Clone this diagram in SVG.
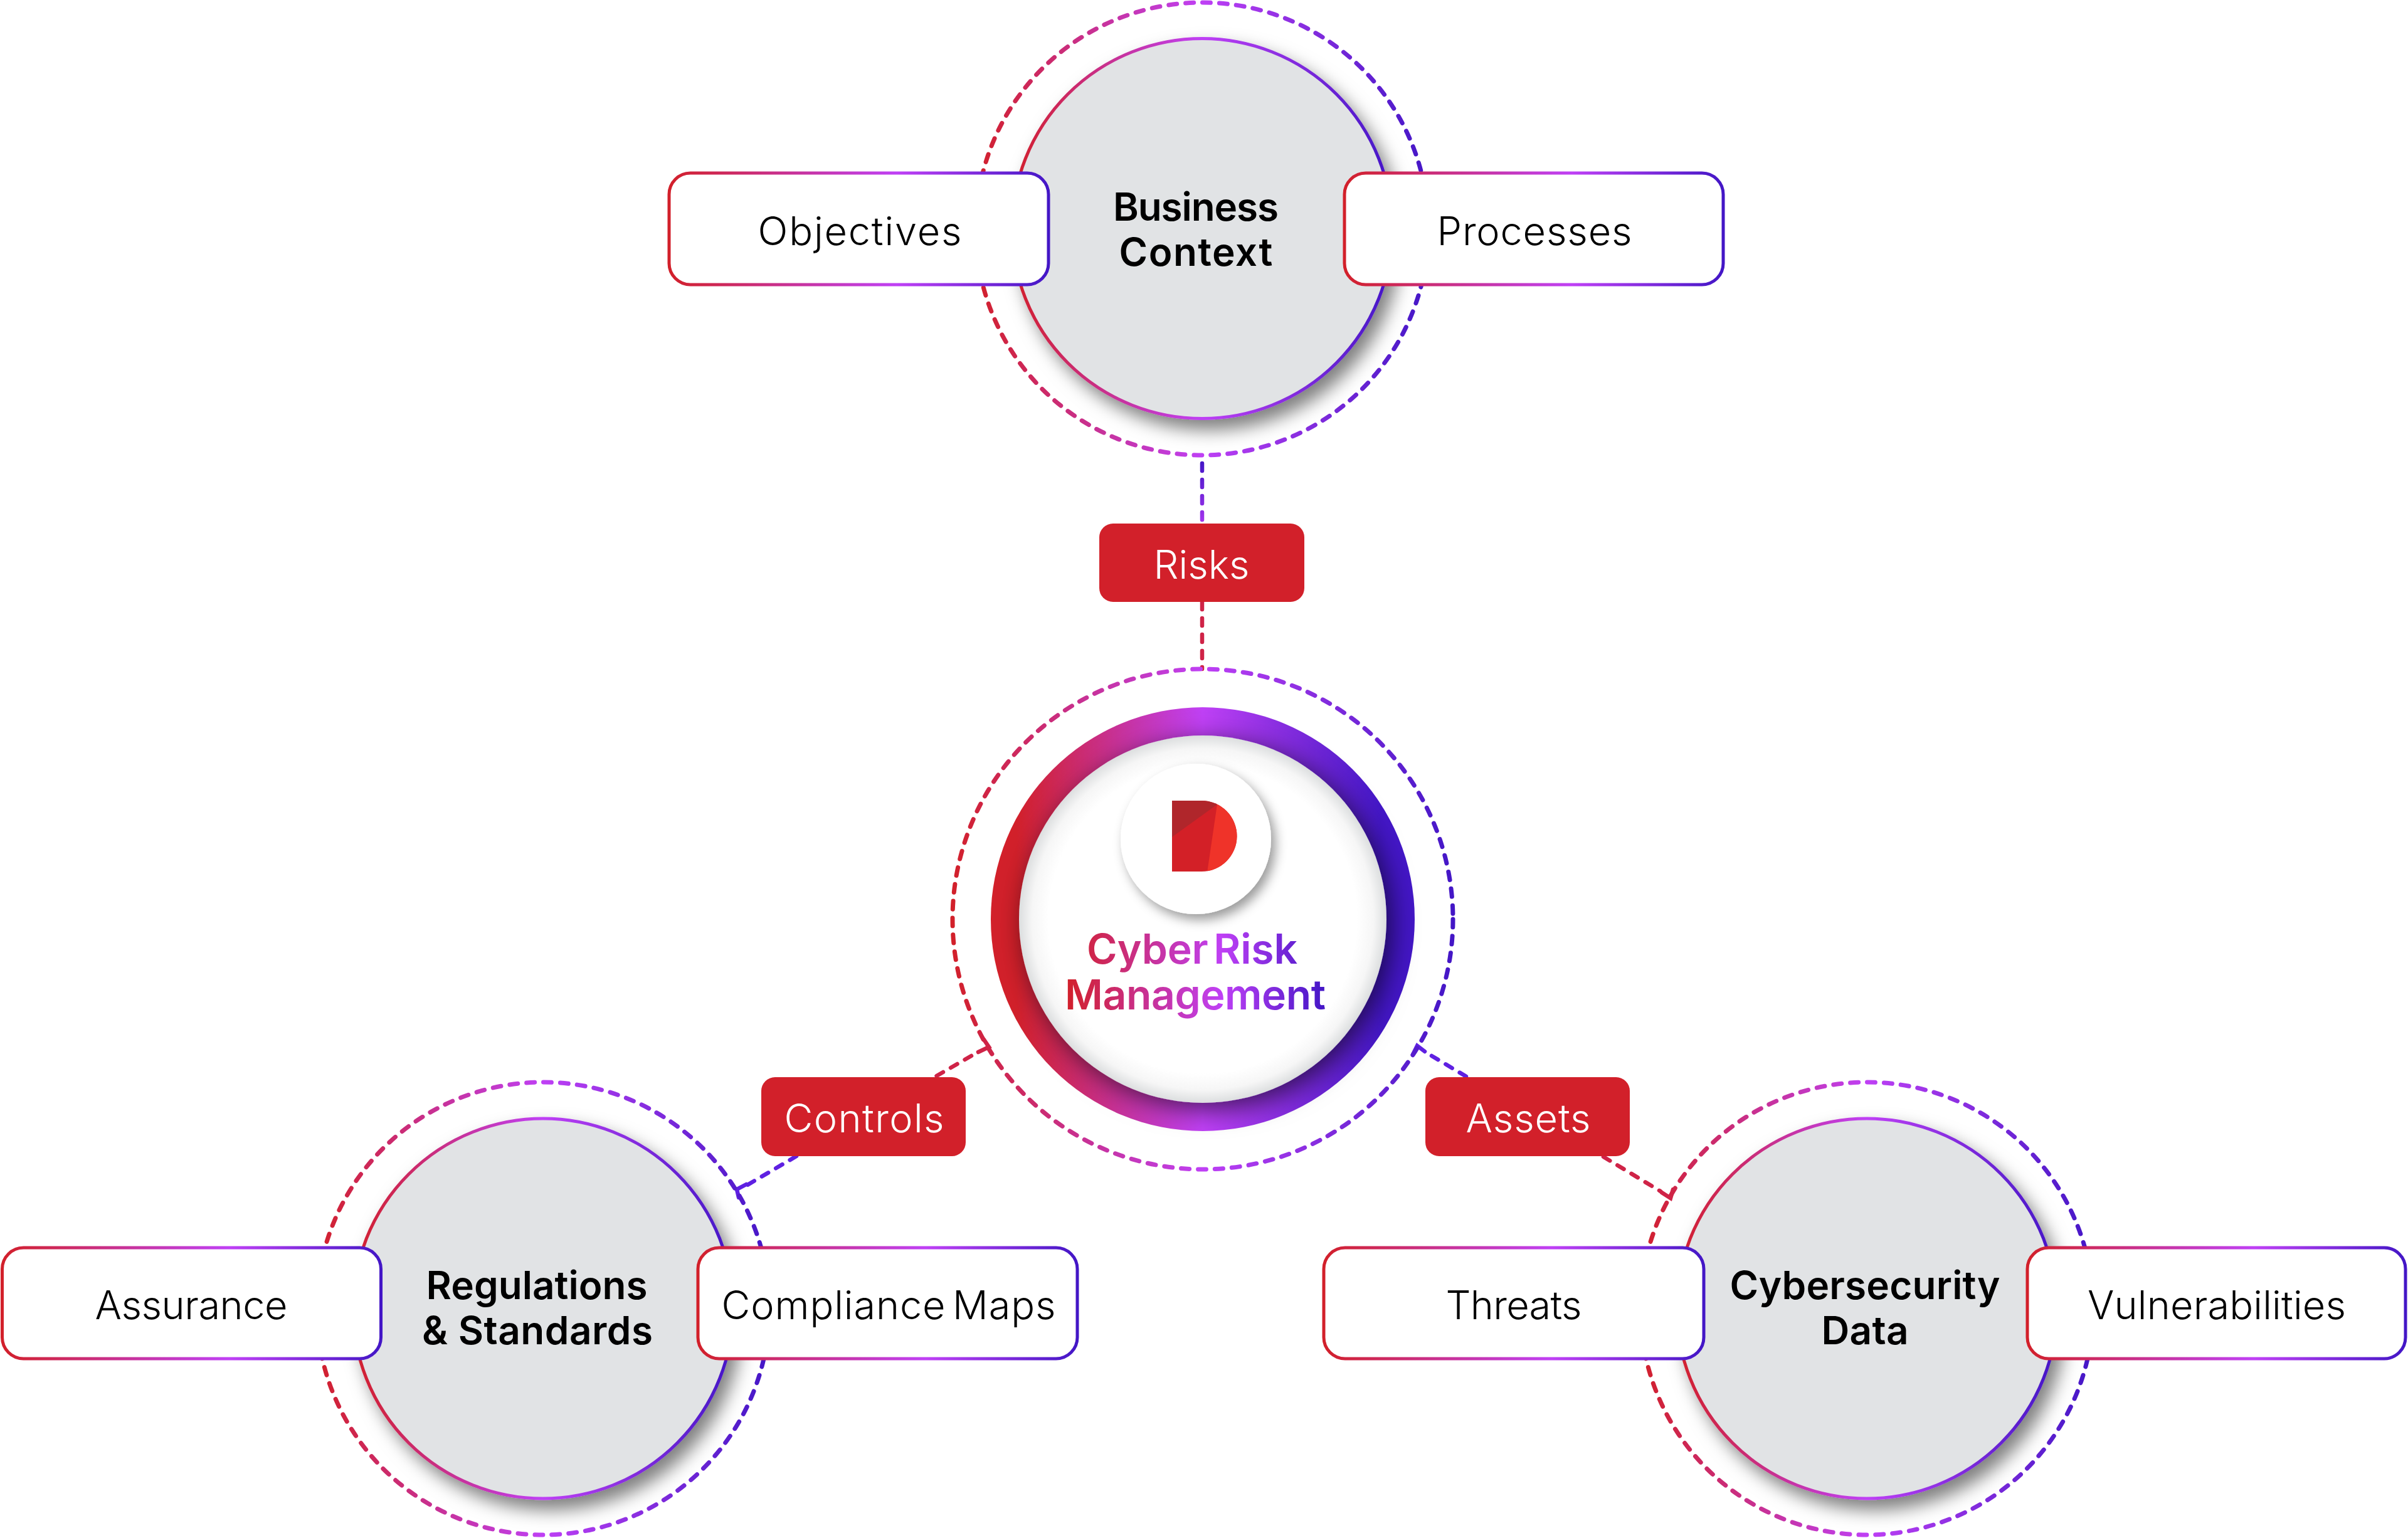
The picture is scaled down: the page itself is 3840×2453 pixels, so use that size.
<svg xmlns="http://www.w3.org/2000/svg" width="3840" height="2453" viewBox="0 0 3840 2453">
<style>
text{font-family:"Inter","Liberation Sans",sans-serif;text-anchor:middle}
.dash{fill:none;stroke:url(#gc);stroke-width:7;stroke-dasharray:13 14;stroke-linecap:round}
.disc{fill:#e1e3e5;stroke:url(#gc);stroke-width:5;filter:url(#sh)}
.box{fill:#fff;stroke:url(#gb);stroke-width:5}
.tag{fill:#d2202a}
.lbl{font-size:63px;font-weight:350;fill:#000}
.hd{font-size:62px;font-weight:600;fill:#000}
.tl{font-size:63px;font-weight:350;fill:#fff}
.mt{font-size:66px;font-weight:600;fill:url(#gt)}
.cn{fill:none;stroke-width:6.500;stroke-dasharray:12 14;stroke-linecap:round}
.tk{fill:none;stroke-width:6.500;stroke-linecap:round;stroke-linejoin:miter}
</style>
<defs>
<linearGradient id="gc" x1="0" y1="0" x2="1" y2="0"><stop offset="0" stop-color="#d2202a"/><stop offset=".5" stop-color="#bf40f5"/><stop offset="1" stop-color="#4316c6"/></linearGradient>
<linearGradient id="gr" x1="0" y1="0" x2="1" y2="0"><stop offset=".06" stop-color="#d2202a"/><stop offset=".5" stop-color="#bf40f5"/><stop offset=".92" stop-color="#4316c6"/></linearGradient>
<linearGradient id="gb" x1="0" y1="0" x2="1" y2="0"><stop offset="0" stop-color="#d2202a"/><stop offset=".6" stop-color="#bf40f5"/><stop offset="1" stop-color="#4316c6"/></linearGradient>
<linearGradient id="gt" gradientUnits="userSpaceOnUse" x1="1700" y1="0" x2="2113" y2="0"><stop offset="0" stop-color="#d2202a"/><stop offset=".6" stop-color="#bf40f5"/><stop offset="1" stop-color="#4316c6"/></linearGradient>
<linearGradient id="g1" gradientUnits="userSpaceOnUse" x1="0" y1="735" x2="0" y2="835"><stop offset="0" stop-color="#4316c6"/><stop offset="1" stop-color="#a535ee"/></linearGradient>
<radialGradient id="gi" cx=".5" cy=".5" r=".5"><stop offset=".84" stop-color="#fff"/><stop offset=".93" stop-color="#f6f6f6"/><stop offset="1" stop-color="#dcdedf"/></radialGradient>
<filter id="sh" x="-20%" y="-20%" width="145%" height="145%"><feDropShadow dx="12" dy="16" stdDeviation="14" flood-color="#000" flood-opacity=".5"/></filter>
<filter id="sh2" x="-20%" y="-20%" width="145%" height="145%"><feDropShadow dx="8" dy="10" stdDeviation="20" flood-color="#000" flood-opacity=".6"/></filter>
<filter id="sh3" x="-20%" y="-20%" width="145%" height="145%"><feDropShadow dx="7" dy="9" stdDeviation="9" flood-color="#000" flood-opacity=".4"/></filter>
<clipPath id="dclip"><path d="M1869 1277H1916A56.500 56.500 0 0 1 1916 1390H1869Z"/></clipPath>
</defs>
<rect width="3840" height="2453" fill="#fff"/>
<g id="connectors">
<path class="cn" stroke="url(#g1)" d="M1917 739V835"/>
<path class="cn" stroke="#cf2347" d="M1917 960V1067"/>
<path class="cn" stroke="#cf2347" d="M1549 1684L1490 1718"/>
<path class="tk" stroke="#cf2347" d="M1569 1658L1577 1670L1560 1678"/>
<path class="cn" stroke="#5f20e2" d="M1270 1844L1190 1891"/>
<path class="tk" stroke="#5f20e2" d="M1190 1889L1175 1897L1178 1910"/>
<path class="cn" stroke="#5f20e2" d="M2283 1684L2340 1718"/>
<path class="tk" stroke="#5f20e2" d="M2253 1682L2260 1668L2272 1677"/>
<path class="cn" stroke="#cf2347" d="M2557 1845L2648 1900"/>
<path class="tk" stroke="#cf2347" d="M2650 1902L2664 1911L2668 1897"/>
</g>
<g id="business-context">
<circle class="dash" cx="1917" cy="365" r="361"/>
<circle class="disc" cx="1917" cy="364.500" r="303"/>
<text class="hd" x="1907" y="352" textLength="264">Business</text>
<text class="hd" x="1907" y="424" textLength="245">Context</text>
</g>
<g id="objectives"><rect class="box" x="1067" y="276" width="605" height="178" rx="34"/><text class="lbl" x="1371" y="391" textLength="325">Objectives</text></g>
<g id="processes"><rect class="box" x="2144" y="276" width="604" height="178" rx="34"/><text class="lbl" x="2447" y="391" textLength="311">Processes</text></g>
<g id="risks"><rect class="tag" x="1753" y="835" width="327" height="125" rx="22"/><text class="tl" x="1916" y="923" textLength="153">Risks</text></g>
<g id="cyber-risk-management">
<circle class="dash" cx="1918" cy="1466" r="399"/>
<circle cx="1918" cy="1466" r="338" fill="url(#gr)"/>
<circle cx="1918" cy="1466" r="293" fill="url(#gi)" filter="url(#sh2)"/>
<circle cx="1907" cy="1338" r="120" fill="#fff" filter="url(#sh3)"/>
<g clip-path="url(#dclip)"><rect x="1869" y="1277" width="110" height="113" fill="#d32027"/>
<path d="M1869 1270H1960L1941 1283L1869 1335Z" fill="#b0262b"/>
<path d="M1941 1283L1925 1392H1985V1270Z" fill="#ef3329"/></g>
<text class="mt" x="1901" y="1537" textLength="336" word-spacing="-8">Cyber Risk</text>
<text class="mt" x="1906" y="1610" textLength="416">Management</text>
</g>
<g id="controls"><rect class="tag" x="1214" y="1718" width="326" height="126" rx="22"/><text class="tl" x="1378" y="1806" textLength="255">Controls</text></g>
<g id="assets"><rect class="tag" x="2273" y="1718" width="326" height="126" rx="22"/><text class="tl" x="2437" y="1806" textLength="199">Assets</text></g>
<g id="regulations-standards">
<circle class="dash" cx="866" cy="2087" r="361"/>
<circle class="disc" cx="866" cy="2087" r="303"/>
<text class="hd" x="856" y="2072" textLength="353">Regulations</text>
<text class="hd" x="857" y="2144" textLength="368">&amp; Standards</text>
</g>
<g id="assurance"><rect class="box" x="3.500" y="1990" width="604" height="177" rx="34"/><text class="lbl" x="305" y="2104" textLength="307">Assurance</text></g>
<g id="compliance-maps"><rect class="box" x="1113" y="1990" width="605" height="177" rx="34"/><text class="lbl" x="1417" y="2104" textLength="533" word-spacing="-8">Compliance Maps</text></g>
<g id="cybersecurity-data">
<circle class="dash" cx="2977" cy="2087" r="361"/>
<circle class="disc" cx="2977" cy="2087" r="303"/>
<text class="hd" x="2974" y="2072" textLength="431">Cybersecurity</text>
<text class="hd" x="2974" y="2144" textLength="139">Data</text>
</g>
<g id="threats"><rect class="box" x="2111" y="1990" width="606" height="177" rx="34"/><text class="lbl" x="2414" y="2104" textLength="217">Threats</text></g>
<g id="vulnerabilities"><rect class="box" x="3233" y="1990" width="603" height="177" rx="34"/><text class="lbl" x="3535" y="2104" textLength="412">Vulnerabilities</text></g>
</svg>
